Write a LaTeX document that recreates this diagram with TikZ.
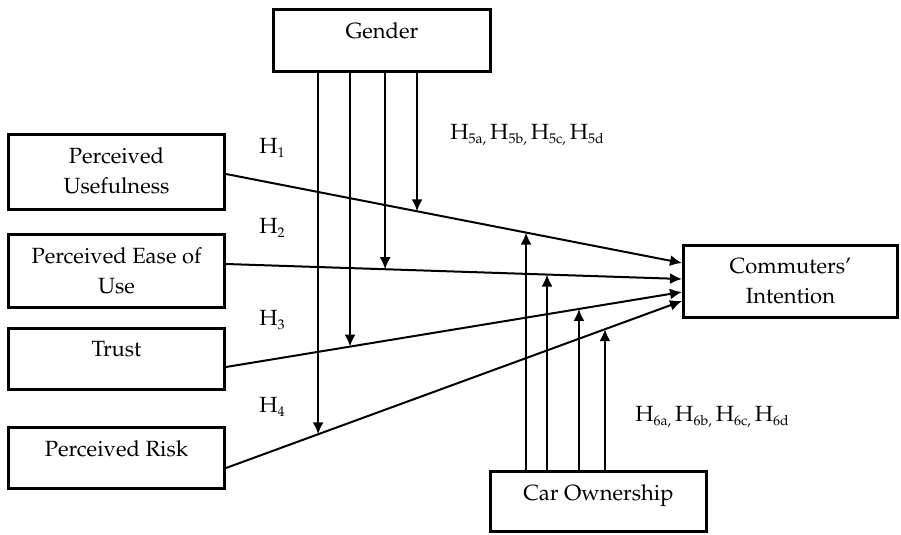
\documentclass[tikz,border=0pt]{standalone}
\usepackage[T1]{fontenc}
\usepackage{mathpazo}
\usetikzlibrary{calc,arrows.meta}
\newcommand{\Hsub}[1]{H\raisebox{-2pt}{\fontsize{7}{8}\selectfont #1}}

\begin{document}
\begin{tikzpicture}[x=0.5pt,y=-0.5pt,
  font=\fontsize{11}{15}\selectfont,
  box/.style={draw,line width=1.5pt,inner sep=0pt},
  lbl/.style={anchor=north,yshift=-7pt,inner sep=0pt,align=center},
  link/.style={line width=1pt,->,>={Latex[length=6pt,width=5.5pt]}},
  hyp/.style={anchor=west,inner sep=0pt}]
\useasboundingbox (0,0) rectangle (901,535);
% constructs
\node[box,minimum width=108.5pt,minimum height=31pt,label={[lbl]north:Gender}] (gen) at (382,40.5) {};
\node[box,minimum width=108pt,minimum height=37.5pt,label={[lbl]north:Perceived\\Usefulness}] (pu) at (116.5,172) {};
\node[box,minimum width=108pt,minimum height=36.5pt,label={[lbl]north:Perceived Ease of\\Use}] (peou) at (116.5,271) {};
\node[box,minimum width=108pt,minimum height=30.5pt,label={[lbl]north:Trust}] (trust) at (116.5,359) {};
\node[box,minimum width=108pt,minimum height=30.5pt,label={[lbl]north:Perceived Risk}] (pr) at (116.5,458) {};
\node[box,minimum width=107pt,minimum height=36pt,label={[lbl]north:Commuters'\\Intention}] (ci) at (790.5,281.5) {};
\node[box,minimum width=108pt,minimum height=30pt,label={[lbl]north:Car Ownership}] (car) at (598.5,501.5) {};
% direct effects
\draw[link] ($(pu.east)+(0,2)$) -- coordinate[pos=.419] (g1) coordinate[pos=.658] (c1) ($(ci.west)+(0,-18.5)$);
\draw[link] ($(peou.east)+(0,-7)$) -- coordinate[pos=.349] (g2) coordinate[pos=.704] (c2) ($(ci.west)+(0,-2.5)$);
\draw[link] ($(trust.east)+(0,8)$) -- coordinate[pos=.272] (g3) coordinate[pos=.774] (c3) ($(ci.west)+(0,10.5)$);
\draw[link] ($(pr.east)+(0,10)$) -- coordinate[pos=.202] (g4) coordinate[pos=.831] (c4) ($(ci.west)+(0,19.5)$);
% moderators
\foreach \i in {1,...,4}{
  \draw[link] (g\i |- gen.south) -- (g\i);
  \draw[link] (c\i |- car.north) -- (c\i);
}
% hypotheses
\node[hyp] (h1) at (259,148) {\Hsub{1}};
\node[hyp] (h2) at (259,228) {\Hsub{2}};
\node[hyp] (h3) at (259,320) {\Hsub{3}};
\node[hyp] (h4) at (259,407) {\Hsub{4}};
\node[hyp] (h5) at (450,135) {\Hsub{5a,}\hspace{2pt}\Hsub{5b,}\hspace{2pt}\Hsub{5c,}\hspace{2pt}\Hsub{5d}};
\node[hyp] (h6) at (635,417) {\Hsub{6a,}\hspace{2pt}\Hsub{6b,}\hspace{2pt}\Hsub{6c,}\hspace{2pt}\Hsub{6d}};
\end{tikzpicture}
\end{document}
